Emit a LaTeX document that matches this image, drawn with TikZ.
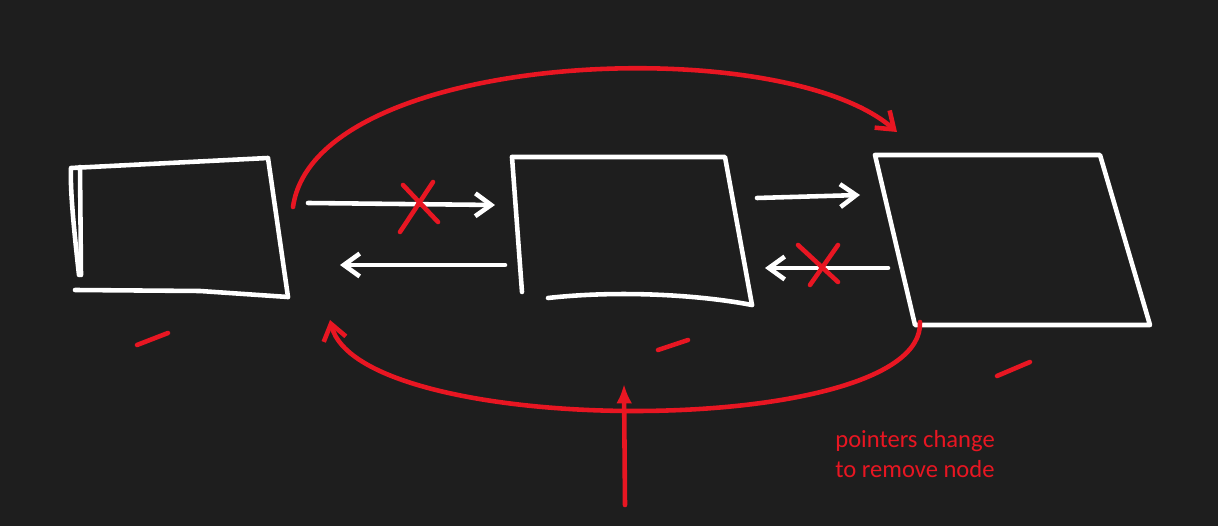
\documentclass[tikz,border=0pt]{standalone}
\usepackage{fontspec}
\newfontfamily\notefont{Carlito}
\usetikzlibrary{arrows.meta}
\definecolor{board}{RGB}{30,30,30}
\definecolor{mred}{RGB}{232,22,34}
\tikzset{chalk/.style = {white, line width=2.6pt, line cap=round, line join=round}}
\tikzset{pen/.style = {mred, line width=2.6pt, line cap=round, line join=round}}
\tikzset{barb/.style = {-{Straight Barb[length=9pt, width=13pt, line width=2.6pt]}}}
\tikzset{dart/.style = {-{Latex[length=11pt, width=9pt]}}}
\begin{document}
\begin{tikzpicture}[x=0.02cm, y=-0.02cm]
    \fill [board] (0, 0) rectangle (1218, 526);

    % list boxes
    \draw [chalk] (79, 275) .. controls (74, 230) and (70, 190) .. (71, 168)
                  -- (268, 158) -- (288, 297);
    \draw [chalk] (75, 290) -- (200, 291) -- (288, 297);
    \draw [chalk] (80, 167) -- (81, 275);
    \draw [chalk] (512, 157) -- (725, 157) -- (752, 305);
    \draw [chalk] (512, 157) -- (522, 292);
    \draw [chalk] (548, 298) .. controls (620, 290) and (700, 295) .. (752, 305);
    \draw [chalk] (875, 155) -- (1100, 155) -- (1150, 325) -- (915, 325) -- (875, 155);

    % pointer ends
    \coordinate (n1-out) at (308, 203);
    \coordinate (n2-in) at (495, 205);
    \coordinate (n2-back) at (505, 265);
    \coordinate (n1-in) at (340, 265);
    \coordinate (n2-out) at (757, 198);
    \coordinate (n3-in) at (860, 195);
    \coordinate (n3-back) at (888, 268);
    \coordinate (n2-in2) at (765, 268);

    \draw [chalk, barb] (n1-out) -- (n2-in);
    \draw [chalk, barb] (n2-back) -- (n1-in);
    \draw [chalk, barb] (n2-out) -- (n3-in);
    \draw [chalk, barb] (n3-back) -- (n2-in2);

    % crossed out pointers
    \draw [pen] (403, 185) -- (438, 222);
    \draw [pen] (433, 182) -- (400, 232);
    \draw [pen] (798, 245) -- (838, 282);
    \draw [pen] (838, 245) -- (810, 285);

    % new links
    \coordinate (n1-top) at (293, 207);
    \coordinate (n3-top) at (897, 132);
    \coordinate (n3-low) at (920, 322);
    \coordinate (n1-low) at (330, 320);
    \coordinate (hint) at (625, 505);
    \coordinate (hint-tip) at (624, 384);
    \draw [pen, barb] (n1-top) .. controls (315, 50) and (780, 30) .. (n3-top);
    \draw [pen, barb] (n3-low) .. controls (925, 440) and (360, 440) .. (n1-low);
    \draw [pen, dart] (hint) -- (hint-tip);

    % index marks
    \draw [pen] (137, 345) -- (168, 333);
    \draw [pen] (658, 350) -- (688, 340);
    \draw [pen] (997, 376) -- (1030, 362);

    \node (note) [mred, anchor=north west, align=left, inner sep=0,
                  font=\notefont\fontsize{14}{17}\selectfont] at (835, 430)
        {pointers change\\to remove node};
\end{tikzpicture}
\end{document}
